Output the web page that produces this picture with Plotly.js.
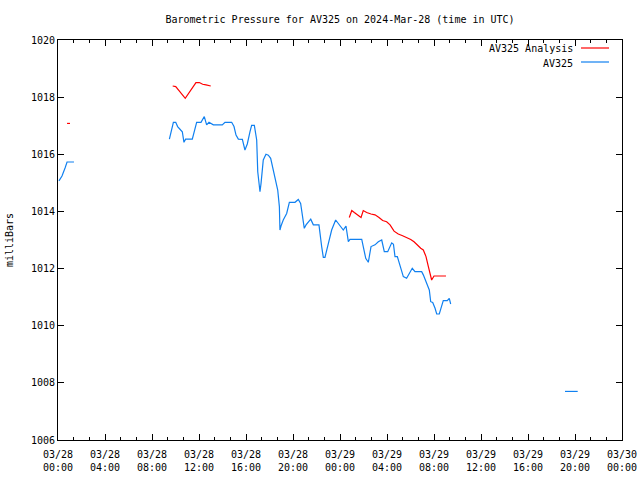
<!DOCTYPE html>
<html>
<head>
<meta charset="utf-8">
<script src="https://cdn.plot.ly/plotly-3.0.1.min.js"></script>
<style>html,body{margin:0;padding:0;background:#fff;}#chart{width:640px;height:480px;}</style>
</head>
<body>
<div id="chart"></div>
<script>
// Hours since 2024-03-28 00:00 UTC; null breaks the line
const blueHours = [0.08,0.34,0.60,0.77,1.36,null,
  9.48,9.82,10.02,10.18,10.44,10.58,10.72,10.86,11.43,11.60,11.80,12.17,12.45,12.65,12.85,13.22,13.98,14.21,14.78,14.98,15.15,15.35,15.69,15.91,
  16.11,16.34,16.48,16.71,16.91,17.00,17.19,17.28,17.47,17.70,17.90,18.10,18.32,18.55,18.70,18.84,18.89,18.98,19.17,19.46,19.69,20.17,20.45,20.65,20.82,20.96,
  21.11,21.30,21.51,21.73,22.21,22.44,22.58,22.72,23.00,23.29,23.63,23.91,24.28,24.51,24.65,24.71,24.85,25.85,25.98,26.19,26.41,26.64,26.98,27.26,27.55,27.77,
  28.06,28.40,28.55,28.68,28.88,29.05,29.19,29.39,29.67,29.96,30.15,30.38,30.95,31.09,31.38,31.60,31.72,31.89,32.09,32.23,32.45,32.65,32.79,33.13,33.30,33.42,null,
  43.15,44.23];
const blueValues = [1015.07,1015.24,1015.52,1015.73,1015.73,null,
  1016.53,1017.12,1017.12,1016.97,1016.85,1016.79,1016.42,1016.53,1016.53,1016.85,1017.12,1017.12,1017.32,1017.03,1017.12,1017.03,1017.03,1017.12,1017.12,1016.97,1016.67,1016.53,1016.52,1016.15,
  1016.36,1016.79,1017.01,1017.01,1016.50,1015.39,1014.69,1014.98,1015.80,1016.00,1015.97,1015.86,1015.45,1015.10,1014.75,1014.17,1013.35,1013.49,1013.70,1013.93,1014.32,1014.32,1014.42,1014.28,1013.87,1013.41,
  1013.53,1013.64,1013.73,1013.53,1013.53,1012.77,1012.39,1012.39,1012.88,1013.35,1013.70,1013.53,1013.35,1013.49,1013.12,1012.94,1013.02,1013.02,1012.77,1012.36,1012.22,1012.77,1012.83,1012.94,1013.00,1012.59,
  1012.59,1012.90,1012.85,1012.42,1012.42,1012.18,1012.01,1011.72,1011.66,1011.86,1012.01,1011.89,1011.89,1011.78,1011.48,1011.25,1010.84,1010.81,1010.61,1010.41,1010.41,1010.69,1010.88,1010.88,1010.96,1010.76,null,
  1007.70,1007.70];
const redHours = [0.77,1.02,null,
  9.76,10.02,10.83,11.74,12.03,12.31,12.60,13.00,null,
  24.79,25.00,25.22,25.56,25.79,25.98,26.27,26.64,26.98,27.32,27.63,27.97,28.26,28.60,28.96,29.33,29.67,30.02,30.30,30.58,30.87,31.09,31.32,31.52,31.72,31.80,32.00,33.02];
const redValues = [1017.08,1017.08,null,
  1018.39,1018.37,1017.96,1018.51,1018.51,1018.45,1018.43,1018.39,null,
  1013.79,1014.03,1013.96,1013.84,1013.79,1014.03,1013.96,1013.91,1013.88,1013.79,1013.68,1013.64,1013.53,1013.31,1013.21,1013.15,1013.09,1013.02,1012.94,1012.82,1012.71,1012.65,1012.42,1012.07,1011.78,1011.60,1011.74,1011.74];
const seriesNames = ["AV325 Analysis", "AV325"];

function toDate(h){
  if(h===null) return null;
  const d = new Date(Date.UTC(2024,2,28) + Math.round(h*3600000));
  const p = n => String(n).padStart(2,'0');
  return d.getUTCFullYear()+'-'+p(d.getUTCMonth()+1)+'-'+p(d.getUTCDate())+' '+p(d.getUTCHours())+':'+p(d.getUTCMinutes())+':'+p(d.getUTCSeconds());
}

const font = {family: "DejaVu Sans Mono, Liberation Mono, monospace", size: 10, color: "#000"};
const traces = [
  {x: redHours.map(toDate), y: redValues, mode: 'lines', name: seriesNames[0], line: {color: '#ff0000', width: 1.2}, showlegend: false},
  {x: blueHours.map(toDate), y: blueValues, mode: 'lines', name: seriesNames[1], line: {color: '#1080f0', width: 1.2}, showlegend: false}
];
const layout = {
  width: 640, height: 480,
  margin: {l: 58, r: 18, t: 40, b: 40},
  paper_bgcolor: '#fff', plot_bgcolor: '#fff',
  font: font,
  title: {text: 'Barometric Pressure for AV325 on 2024-Mar-28 (time in UTC)', font: font, x: 0.5, xref: 'paper', xanchor: 'center', y: 1 - 19/480, yref: 'container', yanchor: 'middle'},
  xaxis: {
    type: 'date', range: ['2024-03-28 00:00:00', '2024-03-30 00:00:00'],
    tick0: '2024-03-28 00:00:00', dtick: 4*3600000, tickformat: '%m/%d<br>%H:%M',
    ticks: 'inside', ticklen: 6, tickcolor: '#000', showline: true, linecolor: '#000', linewidth: 1, mirror: 'allticks',
    showgrid: false, zeroline: false, tickfont: font, ticklabelstandoff: 5,
    minor: {ticks: 'inside', ticklen: 3, tickcolor: '#000', dtick: 4800000, tick0: '2024-03-28 00:00:00', showgrid: false}
  },
  yaxis: {
    range: [1006, 1020], dtick: 2, tick0: 1006,
    ticks: 'inside', ticklen: 6, tickcolor: '#000', showline: true, linecolor: '#000', linewidth: 1, mirror: 'allticks',
    showgrid: false, zeroline: false, tickfont: font,
    title: {text: 'milliBars', font: font, standoff: 15}
  },
  annotations: [
    {text: seriesNames[0], xref: 'paper', yref: 'paper', x: (575-58)/564, y: (440-49)/400, xanchor: 'right', yanchor: 'middle', showarrow: false, font: font},
    {text: seriesNames[1], xref: 'paper', yref: 'paper', x: (575-58)/564, y: (440-63)/400, xanchor: 'right', yanchor: 'middle', showarrow: false, font: font}
  ],
  shapes: [
    {type: 'line', xref: 'paper', yref: 'paper', x0: (581-58)/564, x1: (609-58)/564, y0: (440-48)/400, y1: (440-48)/400, line: {color: '#ff0000', width: 1.2}},
    {type: 'line', xref: 'paper', yref: 'paper', x0: (581-58)/564, x1: (609-58)/564, y0: (440-62)/400, y1: (440-62)/400, line: {color: '#1080f0', width: 1.2}}
  ]
};
Plotly.newPlot('chart', traces, layout, {staticPlot: true, displayModeBar: false});
</script>
</body>
</html>
